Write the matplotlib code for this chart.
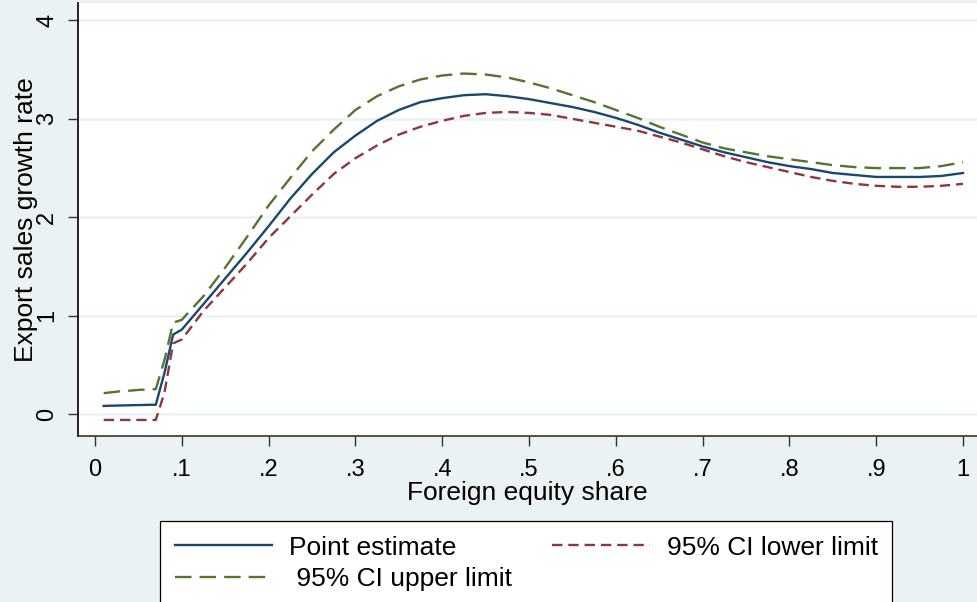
import matplotlib
matplotlib.use("Agg")
import matplotlib.pyplot as plt
from matplotlib.lines import Line2D

plt.rcParams['font.family'] = ['Liberation Sans', 'DejaVu Sans']

# Foreign equity share (x) values
foreign_share = [0.01, 0.02, 0.03, 0.04, 0.05, 0.06, 0.07, 0.08, 0.09, 0.10,
                 0.125, 0.15, 0.175, 0.20, 0.225, 0.25, 0.275, 0.30, 0.325, 0.35,
                 0.375, 0.40, 0.425, 0.45, 0.475, 0.50, 0.525, 0.55, 0.575, 0.60,
                 0.625, 0.65, 0.675, 0.70, 0.725, 0.75, 0.775, 0.80, 0.825, 0.85,
                 0.875, 0.90, 0.925, 0.95, 0.975, 1.00]

point_estimate = [0.085, 0.088, 0.090, 0.092, 0.094, 0.096, 0.097, 0.42, 0.81, 0.86,
                  1.12, 1.38, 1.64, 1.91, 2.19, 2.44, 2.66, 2.83, 2.98, 3.09,
                  3.17, 3.21, 3.24, 3.25, 3.23, 3.20, 3.16, 3.12, 3.07, 3.01,
                  2.94, 2.86, 2.79, 2.72, 2.66, 2.61, 2.56, 2.52, 2.49, 2.45,
                  2.43, 2.41, 2.41, 2.41, 2.42, 2.45]

ci_lower = [-0.057, -0.057, -0.057, -0.057, -0.057, -0.057, -0.057, 0.22, 0.72, 0.76,
            1.05, 1.29, 1.53, 1.79, 2.01, 2.23, 2.44, 2.60, 2.73, 2.84,
            2.92, 2.98, 3.03, 3.06, 3.07, 3.06, 3.04, 3.00, 2.96, 2.92,
            2.88, 2.82, 2.76, 2.69, 2.62, 2.56, 2.51, 2.46, 2.41, 2.37,
            2.34, 2.32, 2.31, 2.31, 2.32, 2.34]

ci_upper = [0.215, 0.225, 0.235, 0.240, 0.248, 0.252, 0.256, 0.55, 0.93, 0.96,
            1.20, 1.49, 1.80, 2.12, 2.40, 2.67, 2.89, 3.09, 3.23, 3.33,
            3.40, 3.44, 3.46, 3.45, 3.42, 3.37, 3.31, 3.24, 3.17, 3.09,
            3.01, 2.92, 2.84, 2.76, 2.70, 2.66, 2.62, 2.59, 2.56, 2.53,
            2.51, 2.50, 2.50, 2.50, 2.52, 2.56]

x_ticks = [0, 0.1, 0.2, 0.3, 0.4, 0.5, 0.6, 0.7, 0.8, 0.9, 1.0]
x_tick_labels = ["0", ".1", ".2", ".3", ".4", ".5", ".6", ".7", ".8", ".9", "1"]
y_ticks = [0, 1, 2, 3, 4]
y_tick_labels = ["0", "1", "2", "3", "4"]

BG = "#EAF2F3"
NAVY = "#1A476F"
MAROON = "#90353B"
GREEN = "#55752F"

W, H = 977, 602
fig = plt.figure(figsize=(W / 100, H / 100), dpi=100)
fig.patch.set_facecolor(BG)

ax = fig.add_axes([78 / W, 1 - 436 / H, (W - 78) / W, (436 - 3) / H])
ax.set_facecolor("white")

lw = 1.7
ax.plot(foreign_share, point_estimate, color=NAVY, lw=lw, solid_joinstyle='round')
ax.plot(foreign_share, ci_lower, color=MAROON, lw=lw, dashes=(4.4, 2.5))
ax.plot(foreign_share, ci_upper, color=GREEN, lw=lw, dashes=(7.0, 3.4))

ax.set_xlim(-0.0196, 1.0161)
ax.set_ylim(-0.22, 4.176)

ax.set_xticks(x_ticks)
ax.set_xticklabels(x_tick_labels)
ax.set_yticks(y_ticks)
ax.set_yticklabels(y_tick_labels, rotation=90, va='center')

for y in y_ticks:
    ax.axhline(y, color=BG, lw=1.8, zorder=0)

for s in ['top', 'right']:
    ax.spines[s].set_visible(False)
ax.spines['left'].set_color("black")
ax.spines['left'].set_linewidth(1.2)
ax.spines['bottom'].set_color("#333333")
ax.spines['bottom'].set_linewidth(1.2)

ax.tick_params(axis='both', length=7.2, width=1.0, color="#333333",
               labelsize=17, labelcolor="black")
ax.tick_params(axis='x', pad=9.5)
ax.tick_params(axis='y', pad=7)

ax.set_xlabel("Foreign equity share", fontsize=19, labelpad=0)
ax.set_ylabel("Export sales growth rate", fontsize=19, labelpad=-1)

handles = [
    Line2D([], [], color=NAVY, lw=lw),
    Line2D([], [], color=MAROON, lw=lw, dashes=(4.4, 2.5)),
    Line2D([], [], color=GREEN, lw=lw, dashes=(7.0, 3.4)),
]
labels = ["Point estimate", "95% CI lower limit", " 95% CI upper limit"]
# column layout: col1 = Point estimate, upper; col2 = lower
order = [0, 2, 1]
leg = fig.legend([handles[i] for i in order], [labels[i] for i in order],
                 loc='upper left', bbox_to_anchor=(160 / W, 1 - 521 / H),
                 ncol=2, fontsize=19, frameon=True, fancybox=False,
                 handlelength=3.7, handletextpad=0.65, columnspacing=1.5,
                 labelspacing=0.3, borderpad=0.55, borderaxespad=0)
leg.get_frame().set_edgecolor("black")
leg.get_frame().set_linewidth(0.9)
leg.get_frame().set_facecolor("white")
leg.get_frame().set_alpha(1)

fig.savefig("out.png", dpi=100, facecolor=BG)
